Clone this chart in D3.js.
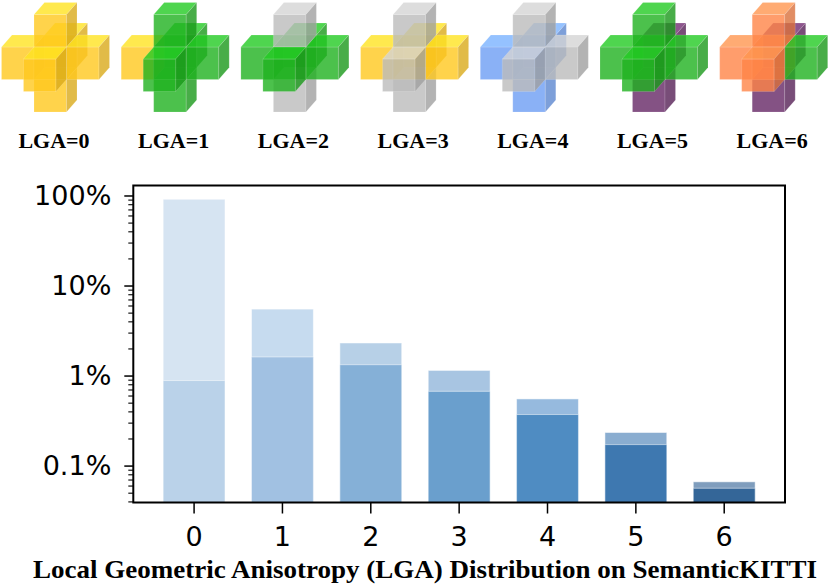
<!DOCTYPE html>
<html>
<head>
<meta charset="utf-8">
<script src="https://cdn.jsdelivr.net/npm/d3@7"></script>
<style>
  html, body { margin: 0; padding: 0; background: #fff; }
  svg { display: block; }
</style>
</head>
<body>
<div id="chart"></div>
<script>
// data
const categories = [0, 1, 2, 3, 4, 5, 6];
const allShare = [0.908, 0.0547, 0.0230, 0.0114, 0.0055, 0.00233, 0.00066];
const partShare = [0.0088, 0.0161, 0.0132, 0.00668, 0.00369, 0.00171, 0.00056];
const yTicks = [0.001, 0.01, 0.1, 1];
const yTickLabels = ['0.1%', '1%', '10%', '100%'];
const iconLabels = ['LGA=0', 'LGA=1', 'LGA=2', 'LGA=3', 'LGA=4', 'LGA=5', 'LGA=6'];

// cube colours per icon, order: back, bottom, left, center, right, top, front
const iconCubes = [
  ['Y', 'Y', 'Y', 'Y', 'Y', 'Y', 'Y'],
  ['G', 'G', 'Y', 'G', 'G', 'G', 'G'],
  ['G', 'S', 'G', 'G', 'G', 'S', 'G'],
  ['Y', 'S', 'Y', 'Y', 'Y', 'S', 'S'],
  ['B', 'B', 'B', 'B', 'S', 'S', 'S'],
  ['P', 'P', 'G', 'G', 'G', 'G', 'G'],
  ['P', 'P', 'O', 'O', 'G', 'O', 'O']
];

const width = 830, height = 585;
const svg = d3.select('#chart').append('svg').attr('width', width).attr('height', height);

// ---- icons ----
const cubeColor = { Y: '#ffc81e', G: '#1fb21f', S: '#bcbcbc', B: '#6d9ef4', P: '#652765', O: '#ff8447' };
const cubeOffsets = [[0, 0, 1], [0, -1, 0], [-1, 0, 0], [0, 0, 0], [1, 0, 0], [0, 1, 0], [0, 0, -1]];
const s = 32.5, dx = 10.5, dy = -12;

iconCubes.forEach((cubes, i) => {
  const x0 = 34 + 119.7 * i, y0 = 47;
  const g = svg.append('g');
  cubes.forEach((key, k) => {
    const [gx, gy, gz] = cubeOffsets[k];
    const cx = x0 + gx * s + gz * dx;
    const cy = y0 - gy * s + gz * dy;
    const base = d3.color(cubeColor[key]);
    const faces = [
      { pts: [[cx, cy], [cx + s, cy], [cx + s, cy + s], [cx, cy + s]], c: base },
      { pts: [[cx, cy], [cx + dx, cy + dy], [cx + s + dx, cy + dy], [cx + s, cy]], c: base.brighter(0.35) },
      { pts: [[cx + s, cy], [cx + s + dx, cy + dy], [cx + s + dx, cy + s + dy], [cx + s, cy + s]], c: base.darker(0.45) }
    ];
    faces.forEach(f => {
      g.append('path')
        .attr('d', 'M' + f.pts.join('L') + 'Z')
        .attr('fill', f.c.formatHex())
        .attr('fill-opacity', 0.8)
        .attr('stroke', '#ffffff')
        .attr('stroke-opacity', 0.25)
        .attr('stroke-width', 0.6);
    });
  });
  svg.append('text')
    .attr('x', x0 + 20)
    .attr('y', 148)
    .attr('text-anchor', 'middle')
    .style('font-family', '"Liberation Serif", "Times New Roman", serif')
    .style('font-weight', 'bold')
    .style('font-size', '22px')
    .text(iconLabels[i]);
});

// ---- bar chart ----
const plotLeft = 133.3, plotRight = 785, plotTop = 185.5, plotBottom = 502.5;

const x = d3.scaleBand().domain(categories).range([plotLeft, plotRight])
  .paddingInner(0.3).paddingOuter(0.338);
const y = d3.scaleLog().domain([0.000389, 1.291]).range([plotBottom, plotTop]);

const lightColors = ['#d6e4f2', '#c6dbef', '#b7d0e7', '#a8c5e2', '#96bade', '#8aadd0', '#7f9dbd'];
const darkColors = ['#bad2e9', '#a1c1e2', '#85b0d7', '#6a9fcd', '#4f8cc2', '#3e78b0', '#346698'];

svg.append('g').selectAll('rect')
  .data(categories)
  .join('rect')
  .attr('x', d => x(d))
  .attr('width', x.bandwidth())
  .attr('y', (d, i) => y(allShare[i]))
  .attr('height', (d, i) => plotBottom - y(allShare[i]))
  .attr('fill', (d, i) => lightColors[i])
  .attr('stroke', '#ffffff')
  .attr('stroke-opacity', 0.5)
  .attr('stroke-width', 1);

svg.append('g').selectAll('rect')
  .data(categories)
  .join('rect')
  .attr('x', d => x(d))
  .attr('width', x.bandwidth())
  .attr('y', (d, i) => y(partShare[i]))
  .attr('height', (d, i) => plotBottom - y(partShare[i]))
  .attr('fill', (d, i) => darkColors[i])
  .attr('stroke', '#ffffff')
  .attr('stroke-opacity', 0.5)
  .attr('stroke-width', 1);

// minor ticks on the log axis
const minorTicks = [];
[0.0001, 0.001, 0.01, 0.1, 1].forEach(dec => {
  for (let m = 2; m <= 9; m++) {
    const v = dec * m;
    if (v >= y.domain()[0] && v <= y.domain()[1]) minorTicks.push(v);
  }
});

const yMinor = svg.append('g')
  .attr('transform', 'translate(' + plotLeft + ',0)')
  .call(d3.axisLeft(y).tickValues(minorTicks).tickSize(5).tickFormat(''));
yMinor.select('.domain').remove();
yMinor.selectAll('line').attr('stroke-width', 1.1);

const yAxis = svg.append('g')
  .attr('transform', 'translate(' + plotLeft + ',0)')
  .call(d3.axisLeft(y).tickValues(yTicks).tickSize(9).tickPadding(13)
    .tickFormat((d, i) => yTickLabels[i]));
yAxis.select('.domain').remove();
yAxis.selectAll('line').attr('stroke-width', 1.5);
yAxis.selectAll('text')
  .style('font-family', '"DejaVu Sans", sans-serif')
  .style('font-size', '27px')
  .attr('fill', '#000');

const xAxis = svg.append('g')
  .attr('transform', 'translate(0,' + plotBottom + ')')
  .call(d3.axisBottom(x).tickSize(11).tickPadding(13));
xAxis.select('.domain').remove();
xAxis.selectAll('line').attr('stroke-width', 1.5);
xAxis.selectAll('text')
  .style('font-family', '"DejaVu Sans", sans-serif')
  .style('font-size', '27px')
  .attr('fill', '#000');

// frame
svg.append('rect')
  .attr('x', plotLeft).attr('y', plotTop)
  .attr('width', plotRight - plotLeft).attr('height', plotBottom - plotTop)
  .attr('fill', 'none')
  .attr('stroke', '#000')
  .attr('stroke-width', 2);

svg.append('text')
  .attr('x', 425)
  .attr('y', 578)
  .attr('text-anchor', 'middle')
  .attr('textLength', 784)
  .attr('lengthAdjust', 'spacingAndGlyphs')
  .style('font-family', '"Liberation Serif", "Times New Roman", serif')
  .style('font-weight', 'bold')
  .style('font-size', '25px')
  .text('Local Geometric Anisotropy (LGA) Distribution on SemanticKITTI');
</script>
</body>
</html>
